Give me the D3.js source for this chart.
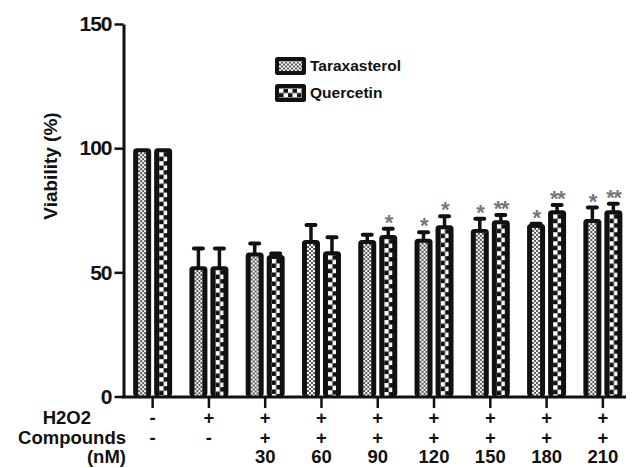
<!DOCTYPE html>
<html><head><meta charset="utf-8">
<script src="https://cdn.jsdelivr.net/npm/d3@7"></script>
<style>
html,body{margin:0;padding:0;background:#fff;}
svg{display:block;font-family:"Liberation Sans",Arial,Helvetica,sans-serif;font-weight:bold;}
</style></head>
<body><svg id="chart" width="634" height="468"></svg>
<script>
const groups = ["c","h","30","60","90","120","150","180","210"];
const h2o2Labels = ["-","+","+","+","+","+","+","+","+"];
const compLabels = ["-","-","+","+","+","+","+","+","+"];
const doseLabels = ["","","30","60","90","120","150","180","210"];
const taraValues = [100, 52.5, 58, 63, 63, 63.5, 67.5, 69.5, 71.5];
const taraErrors = [0, 7.5, 4, 6.5, 2.5, 3, 4.5, 0.5, 5];
const querValues = [100, 52.5, 57, 58.5, 65, 69, 71, 75, 75];
const querErrors = [0, 7.5, 1, 6, 3, 4, 2.5, 2.5, 3];
const taraStars = ["","","","","","*","*","*","*"];
const querStars = ["","","","","*","*","**","**","**"];
const yTicks = [0, 50, 100, 150];
const seriesNames = ["Taraxasterol","Quercetin"];

const svg = d3.select("#chart");
const y = d3.scaleLinear().domain([0,150]).range([396.5, 24]);
const x = d3.scaleBand().domain(groups).range([124.5, 631]).padding(0);
const cx = g => x(g) + x.bandwidth()/2;
const barW = 18, gap = 1.5;

const defs = svg.append("defs");
function makePattern(id, kind, px, py){
  const s = kind === "tara" ? 4 : 9;
  const p = defs.append("pattern").attr("id", id).attr("patternUnits","userSpaceOnUse")
    .attr("x", px).attr("y", py).attr("width", s).attr("height", s);
  if(kind === "tara"){
    p.append("rect").attr("width",4).attr("height",4).attr("fill","#555");
    p.append("rect").attr("x",0).attr("y",0).attr("width",2).attr("height",2).attr("fill","#fff");
    p.append("rect").attr("x",2).attr("y",2).attr("width",2).attr("height",2).attr("fill","#fff");
  } else {
    p.append("rect").attr("width",9).attr("height",9).attr("fill","#111");
    p.append("rect").attr("x",0).attr("y",0).attr("width",4.5).attr("height",4.5).attr("fill","#fff");
    p.append("rect").attr("x",4.5).attr("y",4.5).attr("width",4.5).attr("height",4.5).attr("fill","#fff");
  }
  return "url(#"+id+")";
}

const series = [
  {name:"tara", values: taraValues, errors: taraErrors, stars: taraStars, off: -gap - barW},
  {name:"quer", values: querValues, errors: querErrors, stars: querStars, off: gap}
];

const plot = svg.append("g");
series.forEach(s => {
  groups.forEach((g,i) => {
    const v = s.values[i], e = s.errors[i];
    const bx = cx(g) + s.off;
    const by = y(v);
    const mid = bx + barW/2;
    if(e > 0){
      plot.append("line").attr("x1",mid).attr("x2",mid).attr("y1",by+2).attr("y2",y(v+e))
        .attr("stroke","#111").attr("stroke-width",3.5);
      plot.append("line").attr("x1",mid-4.5).attr("x2",mid+4.5).attr("y1",y(v+e)+1).attr("y2",y(v+e)+1)
        .attr("stroke","#111").attr("stroke-width",4).attr("stroke-linecap","round");
    }
    plot.append("rect").attr("x",bx).attr("y",by).attr("width",barW).attr("height",y(0)-by)
      .attr("rx",3.5).attr("fill","#111");
    const ix = bx + 5, iy = by + 4;
    const pid = "p_"+s.name+"_"+i;
    plot.append("rect").attr("x",ix).attr("y",iy).attr("width",barW-10).attr("height",y(0)-iy)
      .attr("fill", makePattern(pid, s.name, ix, iy));
    if(s.stars[i]){
      plot.append("text").attr("x",mid).attr("y",y(v+e)+2).attr("text-anchor","middle")
        .attr("font-size",22).attr("fill","#777").attr("letter-spacing",-1.5).text(s.stars[i]);
    }
  });
});

// y axis
const yAxis = d3.axisLeft(y).tickValues(yTicks).tickSize(9).tickSizeOuter(0).tickPadding(3);
const ya = svg.append("g").attr("transform","translate(123.5,0)").call(yAxis);
ya.select(".domain").attr("stroke","#111").attr("stroke-width",3);
ya.selectAll(".tick line").attr("stroke","#111").attr("stroke-width",2.5);
ya.selectAll(".tick text").attr("font-size",21).attr("font-family","Liberation Sans, Arial, sans-serif")
  .attr("font-weight","bold").attr("fill","#111").attr("letter-spacing",-1);

// x axis
svg.append("line").attr("x1",122).attr("x2",626).attr("y1",397).attr("y2",397)
  .attr("stroke","#111").attr("stroke-width",3);
const xAxis = d3.axisBottom(x).tickSize(11).tickSizeOuter(0).tickFormat("");
const xa = svg.append("g").attr("transform","translate(0,397)").call(xAxis);
xa.select(".domain").remove();
xa.selectAll(".tick line").attr("stroke","#111").attr("stroke-width",2.5);

// bottom table
const rowY = [424, 444, 463];
const rowTitles = ["H2O2","Compounds","(nM)"];
const rowTitleX = [91, 126, 126];
const lab = svg.append("g").attr("font-size",18.5).attr("fill","#111");
rowTitles.forEach((t,k) => lab.append("text").attr("x",rowTitleX[k]).attr("y",rowY[k])
  .attr("text-anchor","end").text(t));
[h2o2Labels, compLabels, doseLabels].forEach((arr,k) => {
  groups.forEach((g,i) => {
    if(arr[i]) lab.append("text").attr("x",cx(g)).attr("y",rowY[k]).attr("text-anchor","middle").text(arr[i]);
  });
});

// y title
svg.append("text").attr("transform","translate(57,166) rotate(-90)").attr("text-anchor","middle")
  .attr("font-size",19).attr("fill","#111").text("Viability (%)");

// legend
const leg = svg.append("g");
seriesNames.forEach((n,k) => {
  const ly = 57 + k*27;
  leg.append("rect").attr("x",275).attr("y",ly).attr("width",31).attr("height",18).attr("rx",2.5).attr("fill","#111");
  const kind = k===0 ? "tara" : "quer";
  leg.append("rect").attr("x",279).attr("y",ly+4).attr("width",23).attr("height",10)
    .attr("fill", makePattern("leg"+k, kind, 279, ly+4.5));
  leg.append("text").attr("x",310).attr("y",ly+14).attr("font-size",15.5).attr("fill","#111").text(n);
});
</script></body></html>
